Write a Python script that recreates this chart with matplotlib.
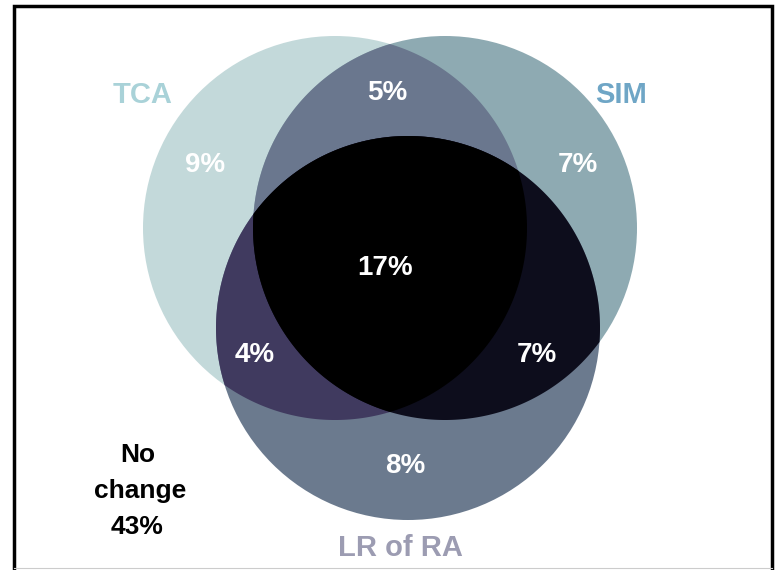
import numpy as np
import matplotlib
matplotlib.use("Agg")
import matplotlib.pyplot as plt
from matplotlib.patches import Polygon, Circle

# data
set_names = ["TCA", "SIM", "LR of RA"]
only_pct = [9, 7, 8]                 # TCA only, SIM only, LR of RA only
pair_keys = [(0, 1), (0, 2), (1, 2)]
pair_pct = [5, 4, 7]                 # TCA&SIM, TCA&LR, SIM&LR
all_pct = 17
none_pct = 43

# layout (pixel coords, y down)
centers = [(335, 228), (445, 228), (408, 328)]
radius = 192
only_pos = [(205, 165), (578, 165), (405, 466)]
pair_pos = [(387, 93), (255, 355), (537, 355)]
all_pos = (385, 268)
name_pos = [(143, 95), (621, 95), (400, 548)]

only_colors = ["#c3d9da", "#8eaab2", "#6b7a8e"]
pair_colors = ["#6a778e", "#403a5f", "#0d0d1c"]
all_color = "#000000"
name_colors = ["#a9d2d8", "#6fa6c6", "#9c9cb2"]


def intersection(idx, n=3000):
    pts = []
    t = np.linspace(0, 2 * np.pi, n, endpoint=False)
    for i in idx:
        cx, cy = centers[i]
        p = np.column_stack([cx + radius * np.cos(t), cy + radius * np.sin(t)])
        keep = np.ones(len(p), bool)
        for j in idx:
            if j == i:
                continue
            d = np.hypot(p[:, 0] - centers[j][0], p[:, 1] - centers[j][1])
            keep &= d <= radius + 1e-6
        pts.append(p[keep])
    pts = np.vstack(pts)
    m = pts.mean(axis=0)
    ang = np.arctan2(pts[:, 1] - m[1], pts[:, 0] - m[0])
    return pts[np.argsort(ang)]


def main():
    fig = plt.figure(figsize=(7.8, 5.7), dpi=100)
    ax = fig.add_axes([0, 0, 1, 1])
    ax.set_xlim(0, 780)
    ax.set_ylim(570, 0)
    ax.axis("off")

    for i in range(3):
        ax.add_patch(Circle(centers[i], radius, facecolor=only_colors[i], edgecolor="none"))
    for k, (i, j) in enumerate(pair_keys):
        ax.add_patch(Polygon(intersection([i, j]), closed=True, facecolor=pair_colors[k], edgecolor="none"))
    ax.add_patch(Polygon(intersection([0, 1, 2]), closed=True, facecolor=all_color, edgecolor="none"))

    font = ["Liberation Sans", "DejaVu Sans"]
    pct_size = 20
    for i in range(3):
        ax.text(*only_pos[i], "%d%%" % only_pct[i], color="white", fontsize=pct_size, fontweight="bold",
                ha="center", va="center", family=font)
        ax.text(*name_pos[i], set_names[i], color=name_colors[i], fontsize=21, fontweight="bold",
                ha="center", va="center", family=font)
    for k in range(3):
        ax.text(*pair_pos[k], "%d%%" % pair_pct[k], color="white", fontsize=pct_size, fontweight="bold",
                ha="center", va="center", family=font)
    ax.text(*all_pos, "%d%%" % all_pct, color="white", fontsize=pct_size, fontweight="bold",
            ha="center", va="center", family=font)

    ax.text(138, 455, "No", color="black", fontsize=19, fontweight="bold", ha="center", va="center", family=font)
    ax.text(140, 491, "change", color="black", fontsize=19, fontweight="bold", ha="center", va="center", family=font)
    ax.text(137, 527, "%d%%" % none_pct, color="black", fontsize=19, fontweight="bold", ha="center", va="center", family=font)

    # frame (open at bottom)
    ax.plot([14, 14, 772, 772], [575, 6, 6, 575], color="black", lw=2.5, solid_joinstyle="miter")
    ax.plot([14, 772], [568, 568], color="#cccccc", lw=0.8)

    fig.savefig("out.png", dpi=100)


if __name__ == "__main__":
    main()
